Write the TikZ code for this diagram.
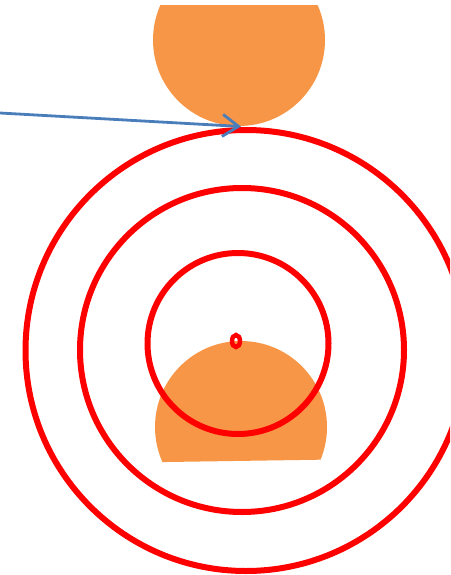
\documentclass[tikz,border=0pt]{standalone}
\usetikzlibrary{arrows.meta}
\definecolor{orfill}{HTML}{F79646}
\definecolor{bluearr}{HTML}{4A7EBB}
\definecolor{ringred}{HTML}{FF0000}
\tikzset{
  ring/.style={draw=ringred, line width=6pt},
  blob/.style={fill=orfill},
  pointer/.style={draw=bluearr, line width=2.8pt, -{Straight Barb[length=16pt,width=22pt]}}
}
\begin{document}
\begin{tikzpicture}[x=1pt,y=-1pt]
\useasboundingbox (0,0) rectangle (450,575);
\clip (0,0) rectangle (450,575);
% top orange segment
\begin{scope}
  \clip (0,6) rectangle (450,200);
  \fill[blob] (239,40) circle (86);
\end{scope}
% bottom orange segment
\begin{scope}
  \clip (100,300) -- (400,300) -- (400,458.5) -- (100,463) -- cycle;
  \fill[blob] (241,427) circle (86);
\end{scope}
% rings
\draw[ring] (246,350.5) circle (220.5);
\draw[ring] (242,350) circle (162);
\draw[ring] (238,343.5) circle (90.5);
\draw[ring, line width=4.5pt] (236,341) ellipse (4 and 6);
% arrow
\coordinate (start) at (0,113);
\coordinate (tip) at (241,126.5);
\draw[pointer] (start) -- (tip);
\end{tikzpicture}
\end{document}
